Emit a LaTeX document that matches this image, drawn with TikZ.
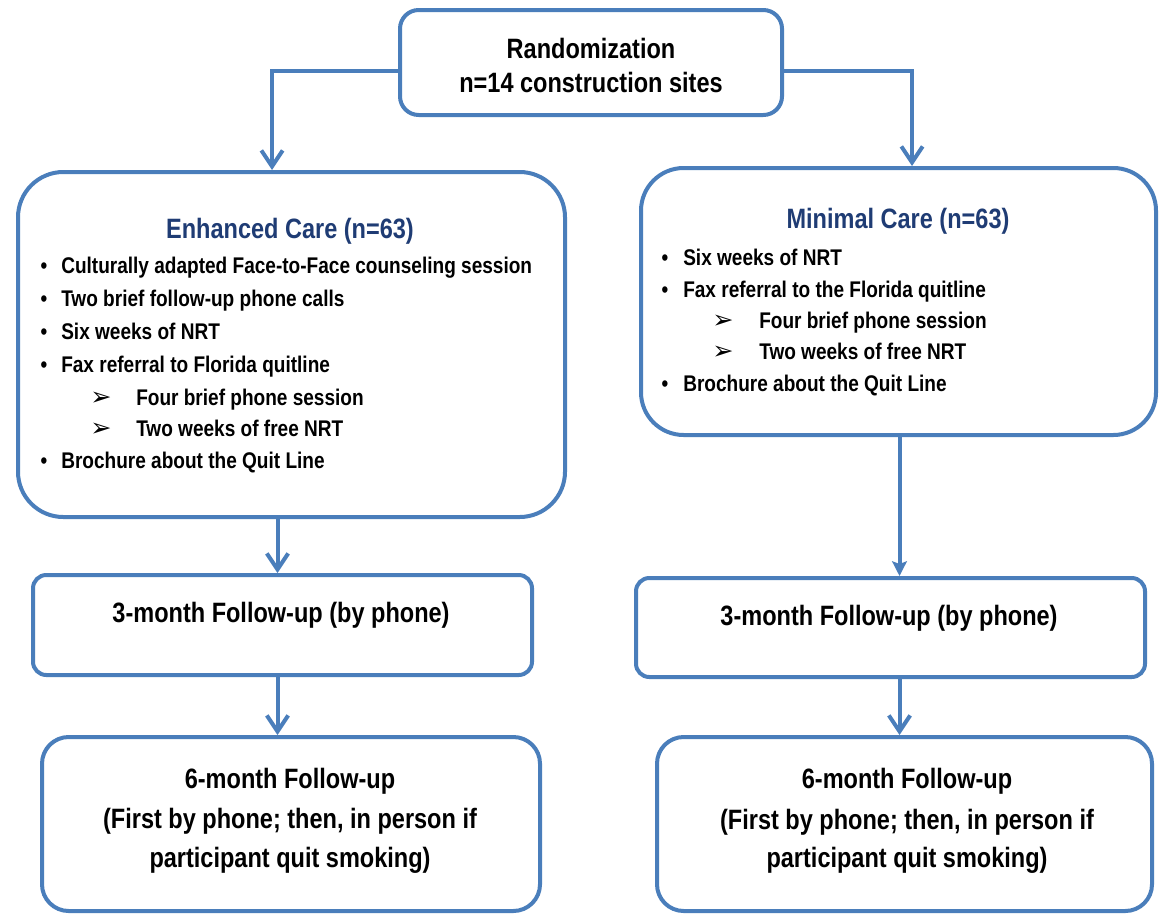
\documentclass[tikz,border=0pt]{standalone}
\usepackage{fontspec}
\setmainfont{Liberation Sans}[FakeStretch=0.84]
\newfontfamily\dingfont{DejaVu Sans}
\usetikzlibrary{fit,arrows.meta}
\definecolor{boxblue}{RGB}{74,126,187}
\definecolor{titleblue}{RGB}{31,60,116}
\newcommand\fbig{\fontsize{21}{25}\selectfont\bfseries}
\newcommand\fsmall{\fontsize{17}{21}\selectfont\bfseries}
\begin{document}
\begin{tikzpicture}[x=0.75pt,y=-0.75pt,
  box/.style={draw=boxblue, line width=3pt, rounded corners=#1, inner sep=0pt},
  conn/.style={draw=boxblue, line width=3pt},
  barb/.style={conn, -{Straight Barb[length=12pt,width=16pt]}},
  solidtip/.style={conn, -{Stealth[length=11pt,width=11pt,inset=2pt]}},
  big/.style={font=\fbig, anchor=base, inner sep=0pt},
  title/.style={font=\fbig, anchor=base, inner sep=0pt, text=titleblue},
  item/.style={font=\fsmall, anchor=base west, inner sep=0pt},
  dot/.style={font=\fsmall, anchor=base, inner sep=0pt},
  subarrow/.style={font=\dingfont\fontsize{19}{19}\selectfont, anchor=base, inner sep=0pt}]
\useasboundingbox (0,0) rectangle (1159,914);

% boxes
\node[box=14pt, fit={(400,10) (782,115)}] (rand) {};
\node[box=34pt, fit={(18,172) (565,517)}] (enh) {};
\node[box=32pt, fit={(641,168) (1156,435)}] (mini) {};
\node[box=10pt, fit={(33,575) (532,675)}] (fl3) {};
\node[box=10pt, fit={(636,578) (1145,677)}] (fr3) {};
\node[box=20pt, fit={(42,737) (540,911)}] (fl6) {};
\node[box=20pt, fit={(657,737) (1152,911)}] (fr6) {};

% randomization text
\node[big] (randA) at (591,58) {Randomization};
\node[big] (randB) at (591,92) {n=14 construction sites};

% enhanced care
\node[title] (enhT) at (290,238) {Enhanced Care (n=63)};
\node[dot] (eb1) at (44,273) {•};
\node[item] (e1) at (61,273) {Culturally adapted Face-to-Face counseling session};
\node[dot] (eb2) at (44,306) {•};
\node[item] (e2) at (61,306) {Two brief follow-up phone calls};
\node[dot] (eb3) at (44,339) {•};
\node[item] (e3) at (61,339) {Six weeks of NRT};
\node[dot] (eb4) at (44,372) {•};
\node[item] (e4) at (61,372) {Fax referral to Florida quitline};
\node[subarrow] (ea5) at (101,405) {➢};
\node[item] (e5) at (136,405) {Four brief phone session};
\node[subarrow] (ea6) at (101,436) {➢};
\node[item] (e6) at (136,436) {Two weeks of free NRT};
\node[dot] (eb7) at (44,468) {•};
\node[item] (e7) at (61,468) {Brochure about the Quit Line};

% minimal care
\node[title] (minT) at (898,228) {Minimal Care (n=63)};
\node[dot] (mb1) at (665,265) {•};
\node[item] (m1) at (683,265) {Six weeks of NRT};
\node[dot] (mb2) at (665,297) {•};
\node[item] (m2) at (683,297) {Fax referral to the Florida quitline};
\node[subarrow] (ma3) at (723,328) {➢};
\node[item] (m3) at (759,328) {Four brief phone session};
\node[subarrow] (ma4) at (723,359) {➢};
\node[item] (m4) at (759,359) {Two weeks of free NRT};
\node[dot] (mb5) at (665,391) {•};
\node[item] (m5) at (683,391) {Brochure about the Quit Line};

% follow-up texts
\node[big] (l3t) at (281,622) {3-month Follow-up (by phone)};
\node[big] (r3t) at (889,625) {3-month Follow-up (by phone)};
\node[big] (l6a) at (290,788) {6-month Follow-up};
\node[big] (l6b) at (290,828) {(First by phone; then, in person if};
\node[big] (l6c) at (290,867) {participant quit smoking)};
\node[big] (r6a) at (907,788) {6-month Follow-up};
\node[big] (r6b) at (907,829) {(First by phone; then, in person if};
\node[big] (r6c) at (907,867) {participant quit smoking)};

% connectors
\coordinate (lturn) at (272,71);
\coordinate (rturn) at (912,71);
\coordinate (lx) at (277.5,0);
\coordinate (rx) at (899.5,0);
\draw[barb] (rand.west |- lturn) -- (lturn) -- (enh.north -| lturn);
\draw[barb] (rand.east |- rturn) -- (rturn) -- (mini.north -| rturn);
\draw[barb] (enh.south -| lx) -- (fl3.north -| lx);
\draw[solidtip] (mini.south -| rx) -- (fr3.north -| rx);
\draw[barb] (fl3.south -| lx) -- (fl6.north -| lx);
\draw[barb] (fr3.south -| rx) -- (fr6.north -| rx);
\end{tikzpicture}
\end{document}
